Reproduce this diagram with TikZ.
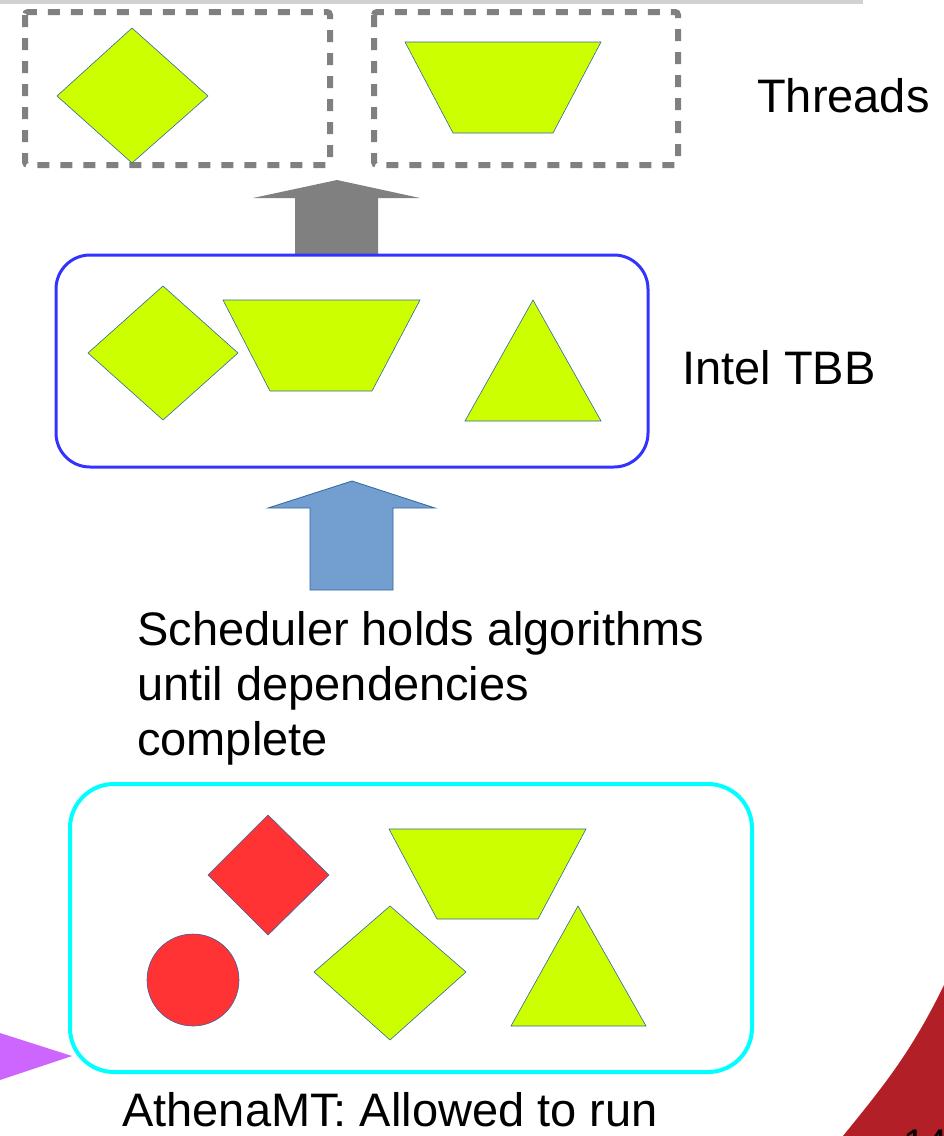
\documentclass[tikz,border=0pt]{standalone}
\usepackage{fontspec}
\setmainfont{Liberation Sans}
\usetikzlibrary{positioning}
\definecolor{limefill}{HTML}{CCFF00}
\definecolor{shapeline}{HTML}{3465A4}
\definecolor{redfill}{HTML}{FF3333}
\definecolor{arrowblue}{HTML}{729FCF}
\definecolor{tbbblue}{HTML}{3333FF}
\definecolor{athenacyan}{HTML}{00FFFF}
\definecolor{slidered}{HTML}{B21F26}
\definecolor{purplefill}{HTML}{CC66FF}
\tikzset{
    thread box/.style = {
        draw = gray,
        line width = 6pt,
        dash pattern = on 12pt off 11pt,
        rounded corners = 3pt,
        },
    tbb box/.style = {
        draw = tbbblue,
        line width = 3pt,
        rounded corners = 34pt,
        },
    athena box/.style = {
        draw = athenacyan,
        line width = 4pt,
        rounded corners = 44pt,
        },
    ready/.style = {
        fill = limefill,
        draw = shapeline,
        line width = 0.6pt,
        },
    blocked/.style = {
        fill = redfill,
        draw = shapeline,
        line width = 0.6pt,
        },
    label/.style = {
        font = \fontsize{47}{55}\selectfont,
        inner sep = 0pt,
        },
}

\begin{document}
\begin{tikzpicture}[x=1pt, y=-1pt]
    \useasboundingbox (0,0) rectangle (944,1136);

    % slide decoration
    \fill[black!18] (0,0) rectangle (863,3.5);
    \fill[slidered] (944,985) .. controls (910,1055) and (880,1090) .. (843,1136) -- (944,1136) -- cycle;
    \fill[purplefill] (0,1033) -- (72,1056) -- (0,1080) -- cycle;
    \node[font=\fontsize{40}{44}\selectfont, anchor=base west, inner sep=0pt] (page) at (903,1157) {14};

    % threads
    \draw[thread box] (25,12) rectangle (330,165);
    \draw[thread box] (374,12) rectangle (678,165);
    \draw[ready] (132,28) -- (208,96) -- (132,163) -- (57,96) -- cycle;
    \draw[ready] (405,42) -- (601,42) -- (553,133) -- (453,133) -- cycle;
    \node[label, anchor=west] (threads) at (757,96) {Threads};

    % arrow into threads
    \fill[gray] (337,180) -- (420,198) -- (378,198) -- (378,255) -- (295,255) -- (295,198) -- (253,198) -- cycle;

    % intel tbb
    \draw[tbb box] (56,255) rectangle (648,467);
    \draw[ready] (163,286) -- (238,353) -- (163,420) -- (88,353) -- cycle;
    \draw[ready] (223,300) -- (420,300) -- (372,391) -- (270,391) -- cycle;
    \draw[ready] (533,300) -- (601,421) -- (465,421) -- cycle;
    \node[label, anchor=west] (tbb) at (682,368) {Intel TBB};

    % arrow into tbb
    \draw[fill=arrowblue, draw=shapeline, line width=0.8pt] (352,481) -- (435,508) -- (393,508) -- (393,590) -- (310,590) -- (310,508) -- (268,508) -- cycle;
    \node[label, anchor=base west, align=left] (sched) at (137,755) {Scheduler holds algorithms\\until dependencies\\complete};

    % athenamt
    \draw[athena box] (70,784) rectangle (752,1072);
    \draw[blocked] (268,815) -- (329,875) -- (268,935) -- (208,875) -- cycle;
    \draw[blocked] (193,980) circle (46);
    \draw[ready] (389,829) -- (586,829) -- (538,919) -- (437,919) -- cycle;
    \draw[ready] (390,906) -- (466,972) -- (390,1040) -- (314,972) -- cycle;
    \draw[ready] (578,906) -- (646,1026) -- (511,1026) -- cycle;
    \node[label, anchor=west] (athena) at (122,1110) {AthenaMT: Allowed to run};
\end{tikzpicture}
\end{document}
